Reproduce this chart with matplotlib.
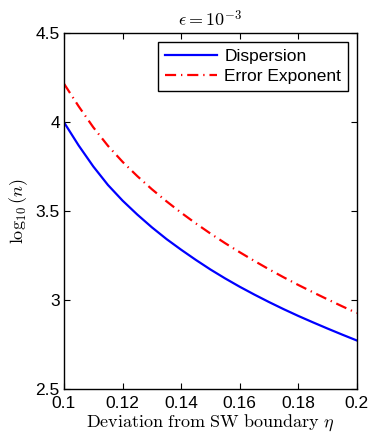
import matplotlib
matplotlib.use('Agg')
from matplotlib import pyplot as plt

plt.rcParams['font.family'] = ['Liberation Sans', 'DejaVu Sans']
plt.rcParams['mathtext.fontset'] = 'cm'

# values
eta = [0.100, 0.105, 0.110, 0.115, 0.120, 0.125, 0.130, 0.135, 0.140, 0.145, 0.150,
       0.155, 0.160, 0.165, 0.170, 0.175, 0.180, 0.185, 0.190, 0.195, 0.200]
dispersion = [4.000, 3.870, 3.752, 3.648, 3.560, 3.482, 3.410, 3.344, 3.284, 3.227, 3.173,
              3.123, 3.076, 3.032, 2.990, 2.950, 2.912, 2.876, 2.841, 2.807, 2.774]
error_exponent = [4.217, 4.090, 3.972, 3.868, 3.778, 3.698, 3.624, 3.556, 3.492, 3.432, 3.375,
                  3.321, 3.270, 3.221, 3.174, 3.129, 3.086, 3.045, 3.005, 2.966, 2.928]
xticks = [0.1, 0.12, 0.14, 0.16, 0.18, 0.2]
xticklabels = ['0.1', '0.12', '0.14', '0.16', '0.18', '0.2']
yticks = [2.5, 3, 3.5, 4, 4.5]
yticklabels = ['2.5', '3', '3.5', '4', '4.5']

fig = plt.figure(figsize=(3.71, 4.33), dpi=100)
ax = fig.add_axes([0.1725, 0.101, 0.7895, 0.822])

ax.plot(eta, dispersion, color='#0000ff', lw=1.6, label='Dispersion')
ax.plot(eta, error_exponent, color='#ff0000', lw=1.6,
        dashes=(5, 2.2, 0.6, 2.2), label='Error Exponent')

ax.set_xlim(0.1, 0.2)
ax.set_ylim(2.5, 4.5)
ax.set_xticks(xticks)
ax.set_xticklabels(xticklabels)
ax.set_yticks(yticks)
ax.set_yticklabels(yticklabels)
ax.tick_params(direction='in', top=True, right=True, labelsize=12.5, length=4, pad=3)
ax.tick_params(axis='x', pad=5)
for s in ax.spines.values():
    s.set_linewidth(1.0)

ax.set_xlabel(r'$\mathrm{Deviation\ from\ SW\ boundary}\ \eta$', fontsize=13, labelpad=1)
ax.set_ylabel(r'$\log_{10}(n)$', fontsize=13, labelpad=4)
ax.set_title(r'$\epsilon = 10^{-3}$', fontsize=13, pad=5)

leg = ax.legend(loc='upper right', fontsize=12.5, fancybox=False, framealpha=1,
                edgecolor='black', handlelength=3.0, borderaxespad=0.5,
                handletextpad=0.45, labelspacing=0.3, borderpad=0.4)
leg.get_frame().set_linewidth(1.0)

fig.savefig('out.png', dpi=100)
